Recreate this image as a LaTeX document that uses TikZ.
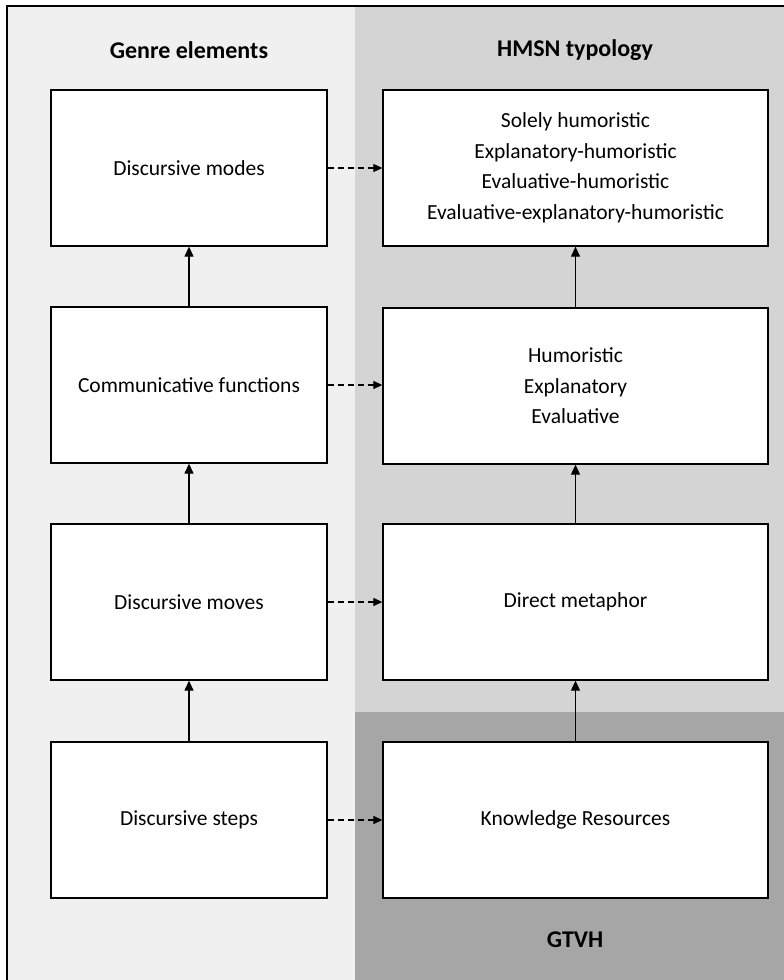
\documentclass[tikz,border=0pt]{standalone}
\usepackage{fontspec}
\setmainfont{Carlito}
\usetikzlibrary{arrows.meta,positioning}
\definecolor{leftgray}{gray}{0.94}
\definecolor{rightgray}{gray}{0.83}
\definecolor{gtvhgray}{gray}{0.65}
\tikzset{
  lbox/.style={draw,line width=1.3pt,fill=white,minimum width=276pt,minimum height=156pt,align=center,font=\fontsize{21.5}{30.5}\selectfont},
  rbox/.style={lbox,minimum width=385pt},
  head/.style={font=\fontsize{24}{28}\selectfont\bfseries},
  up/.style={-{Triangle[length=10pt,width=9pt]},line width=1.2pt},
  link/.style={-{Triangle[length=9pt,width=8pt]},dash pattern=on 6pt off 4pt,line width=1.2pt}
}
\begin{document}
\begin{tikzpicture}[x=1pt,y=-1pt]
  \useasboundingbox (0,0) rectangle (784,980);
  % panels
  \fill[leftgray] (7,6) rectangle (355,980);
  \fill[rightgray] (355,6) rectangle (784,712);
  \fill[gtvhgray] (355,712) rectangle (784,980);
  \draw[line width=1.6pt] (7,980) -- (7,6) -- (784,6);
  % headings
  \node[head] (genre) at (189,50) {Genre elements};
  \node[head] (hmsn) at (575,50) {HMSN typology};
  \node[head] (gtvh) at (575,940) {GTVH};
  % genre elements
  \node[lbox] (modes) at (189,168) {Discursive modes};
  \node[lbox] (functions) at (189,385) {Communicative functions};
  \node[lbox] (moves) at (189,602) {Discursive moves};
  \node[lbox] (steps) at (189,820) {Discursive steps};
  % typology
  \node[rbox] (types) at (575.5,168) {Solely humoristic\\Explanatory-humoristic\\Evaluative-humoristic\\Evaluative-explanatory-humoristic};
  \node[rbox] (kinds) at (575.5,386) {Humoristic\\Explanatory\\Evaluative};
  \node[rbox] (metaphor) at (575.5,602) {Direct metaphor};
  \node[rbox] (resources) at (575.5,820) {Knowledge Resources};
  % links
  \draw[up] (steps) -- (moves);
  \draw[up] (moves) -- (functions);
  \draw[up] (functions) -- (modes);
  \draw[up] (resources) -- (metaphor);
  \draw[up] (metaphor) -- (kinds);
  \draw[up] (kinds) -- (types);
  \draw[link] (modes) -- (modes -| types.west);
  \draw[link] (functions) -- (functions -| kinds.west);
  \draw[link] (moves) -- (metaphor);
  \draw[link] (steps) -- (resources);
\end{tikzpicture}
\end{document}
